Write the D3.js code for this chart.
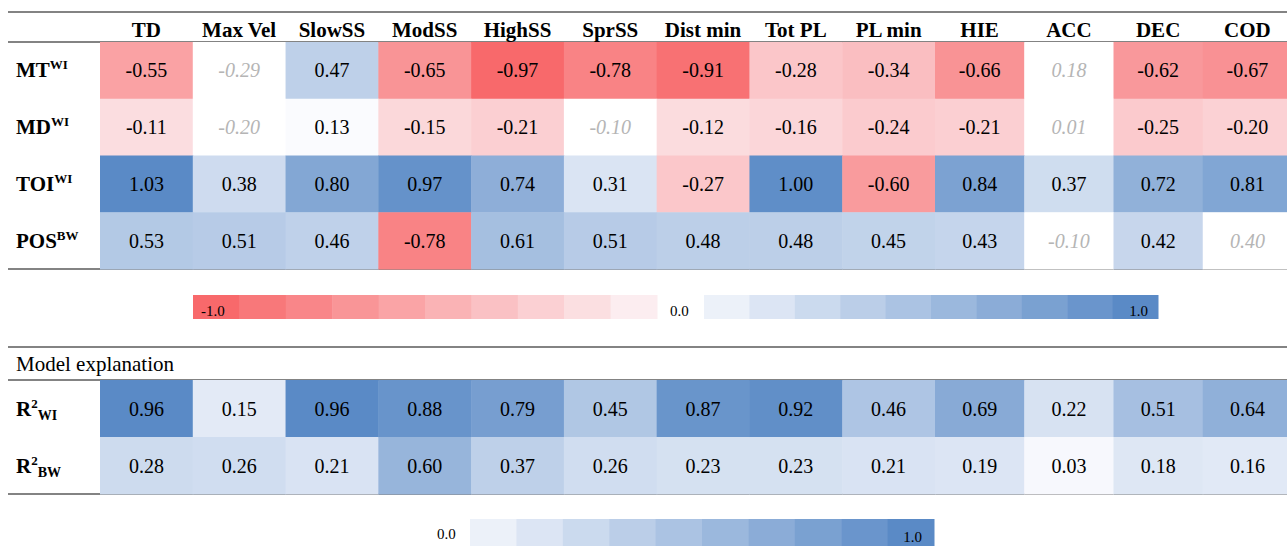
<!DOCTYPE html>
<html>
<head>
<meta charset="utf-8">
<script src="https://cdn.jsdelivr.net/npm/d3@7/dist/d3.min.js"></script>
<style>
  html, body { margin: 0; padding: 0; background: #fff; }
  svg { display: block; }
  text { font-family: "Liberation Serif", "Times New Roman", serif; }
</style>
</head>
<body>
<svg id="chart" width="1287" height="546"></svg>
<script>
// Column variables
const columns = ["TD", "Max Vel", "SlowSS", "ModSS", "HighSS", "SprSS", "Dist min", "Tot PL", "PL min", "HIE", "ACC", "DEC", "COD"];

// Predictor rows: label, superscript tag
const rowNames = ["MT", "MD", "TOI", "POS"];
const rowTags = ["WI", "WI", "WI", "BW"];

// Standardised coefficients per predictor
const mtValues  = [-0.55, -0.29, 0.47, -0.65, -0.97, -0.78, -0.91, -0.28, -0.34, -0.66, 0.18, -0.62, -0.67];
const mdValues  = [-0.11, -0.20, 0.13, -0.15, -0.21, -0.10, -0.12, -0.16, -0.24, -0.21, 0.01, -0.25, -0.20];
const toiValues = [1.03, 0.38, 0.80, 0.97, 0.74, 0.31, -0.27, 1.00, -0.60, 0.84, 0.37, 0.72, 0.81];
const posValues = [0.53, 0.51, 0.46, -0.78, 0.61, 0.51, 0.48, 0.48, 0.45, 0.43, -0.10, 0.42, 0.40];

// Non-significant estimates (drawn in grey italics, no fill)
const mtNonSig  = [0, 1, 0, 0, 0, 0, 0, 0, 0, 0, 1, 0, 0];
const mdNonSig  = [0, 1, 0, 0, 0, 1, 0, 0, 0, 0, 1, 0, 0];
const toiNonSig = [0, 0, 0, 0, 0, 0, 0, 0, 0, 0, 0, 0, 0];
const posNonSig = [0, 0, 0, 0, 0, 0, 0, 0, 0, 0, 1, 0, 1];

// Model explanation (R squared)
const r2Names = ["WI", "BW"];
const r2WI = [0.96, 0.15, 0.96, 0.88, 0.79, 0.45, 0.87, 0.92, 0.46, 0.69, 0.22, 0.51, 0.64];
const r2BW = [0.28, 0.26, 0.21, 0.60, 0.37, 0.26, 0.23, 0.23, 0.21, 0.19, 0.03, 0.18, 0.16];

// Legend steps
const negSteps = [-1.0, -0.9, -0.8, -0.7, -0.6, -0.5, -0.4, -0.3, -0.2, -0.1];
const posSteps = [0.1, 0.2, 0.3, 0.4, 0.5, 0.6, 0.7, 0.8, 0.9, 1.0];

const coefRows = [mtValues, mdValues, toiValues, posValues];
const sigRows = [mtNonSig, mdNonSig, toiNonSig, posNonSig];
const r2Rows = [r2WI, r2BW];

const RED = "#F8696B", WHITE = "#FCFCFF", BLUE = "#5A8AC6";
const INK = "#000", MUTED = "#b5b5b5", RULE = "#5a5a5a";

const svg = d3.select("#chart");

// Column edges: nine wider leading columns, four narrower trailing ones
const x = d3.scaleLinear().domain([0, 9, 13]).range([100, 935, 1292]);
const colW = i => x(i + 1) - x(i);

// Row bands
const yCoef = d3.scaleBand().domain(d3.range(rowNames.length)).range([42, 269]);
const yR2 = d3.scaleBand().domain(d3.range(r2Names.length)).range([380, 494]);

// Fill scales
const allCoef = coefRows.flat();
const coefColor = d3.scaleLinear()
  .domain([d3.min(allCoef), 0.12, d3.max(allCoef)])
  .range([RED, WHITE, BLUE]).clamp(true);
const legendColor = d3.scaleLinear().domain([-1, 0, 1]).range([RED, WHITE, BLUE]);
const allR2 = r2Rows.flat();
const r2Color = d3.scaleLinear().domain([0, d3.max(allR2)]).range([WHITE, BLUE]).clamp(true);
const r2Legend = d3.scaleLinear().domain([0, 1]).range([WHITE, BLUE]);

// Plain hyphen-minus for negative numbers
const locale = d3.formatLocale({ decimal: ".", thousands: ",", grouping: [3], currency: ["", ""], minus: "-" });
const fmt = locale.format(".2f");
const fmt1 = locale.format(".1f");

// ---- Horizontal rules ----
[12, 42, 269, 347, 380, 494].forEach(yy => {
  svg.append("line")
    .attr("x1", 8).attr("x2", 1287).attr("y1", yy).attr("y2", yy)
    .attr("stroke", RULE).attr("stroke-width", 1.6);
});

// ---- Column headers ----
svg.append("g").selectAll("text").data(columns).join("text")
  .attr("x", (d, i) => x(i) + colW(i) / 2)
  .attr("y", 37)
  .attr("text-anchor", "middle")
  .attr("font-size", 21).attr("font-weight", "bold").attr("fill", INK)
  .text(d => d);

// ---- Coefficient cells ----
const coefCells = [];
coefRows.forEach((vals, r) => vals.forEach((v, c) => coefCells.push({ r, c, v, ns: sigRows[r][c] === 1 })));

const gCoef = svg.append("g");
gCoef.selectAll("rect").data(coefCells).join("rect")
  .attr("x", d => x(d.c)).attr("y", d => yCoef(d.r))
  .attr("width", d => colW(d.c) + 0.5).attr("height", yCoef.bandwidth() + 0.5)
  .attr("fill", d => d.ns ? "#ffffff" : coefColor(d.v));
gCoef.selectAll("text").data(coefCells).join("text")
  .attr("x", d => x(d.c) + colW(d.c) / 2)
  .attr("y", d => yCoef(d.r) + yCoef.bandwidth() / 2 + 7)
  .attr("text-anchor", "middle").attr("font-size", 20)
  .attr("font-style", d => d.ns ? "italic" : "normal")
  .attr("fill", d => d.ns ? MUTED : INK)
  .text(d => fmt(d.v));

// Row labels with superscript tags
rowNames.forEach((name, r) => {
  const base = yCoef(r) + yCoef.bandwidth() / 2 + 7;
  const t = svg.append("text").attr("x", 16).attr("y", base)
    .attr("font-size", 21).attr("font-weight", "bold").attr("fill", INK);
  t.append("tspan").text(name);
  t.append("tspan").attr("font-size", 13).attr("dy", -8).text(rowTags[r]);
});

// ---- Coefficient legend ----
const legTop = 295, legH = 24;
const legRed = d3.scaleBand().domain(negSteps).range([193, 657]);
svg.append("g").selectAll("rect").data(negSteps).join("rect")
  .attr("x", d => legRed(d)).attr("y", legTop)
  .attr("width", legRed.bandwidth() + 0.5).attr("height", legH)
  .attr("fill", d => legendColor(d));
const legBlue = d3.scaleBand().domain(posSteps).range([704, 1158]);
svg.append("g").selectAll("rect").data(posSteps).join("rect")
  .attr("x", d => legBlue(d)).attr("y", legTop)
  .attr("width", legBlue.bandwidth() + 0.5).attr("height", legH)
  .attr("fill", d => legendColor(d));
svg.append("text").attr("x", legRed(-1.0) + 8).attr("y", 316)
  .attr("font-size", 15).attr("fill", INK).text(fmt1(negSteps[0]));
svg.append("text").attr("x", 670).attr("y", 316)
  .attr("font-size", 15).attr("fill", INK).text(fmt1(0));
svg.append("text").attr("x", legBlue(1.0) + legBlue.bandwidth() - 10).attr("y", 316)
  .attr("text-anchor", "end").attr("font-size", 15).attr("fill", INK).text(fmt1(posSteps[posSteps.length - 1]));

// ---- Model explanation ----
svg.append("text").attr("x", 16).attr("y", 371)
  .attr("font-size", 21).attr("fill", INK).text("Model explanation");

const r2Cells = [];
r2Rows.forEach((vals, r) => vals.forEach((v, c) => r2Cells.push({ r, c, v })));
const gR2 = svg.append("g");
gR2.selectAll("rect").data(r2Cells).join("rect")
  .attr("x", d => x(d.c)).attr("y", d => yR2(d.r))
  .attr("width", d => colW(d.c) + 0.5).attr("height", yR2.bandwidth() + 0.5)
  .attr("fill", d => r2Color(d.v));
gR2.selectAll("text").data(r2Cells).join("text")
  .attr("x", d => x(d.c) + colW(d.c) / 2)
  .attr("y", d => yR2(d.r) + yR2.bandwidth() / 2 + 7)
  .attr("text-anchor", "middle").attr("font-size", 20).attr("fill", INK)
  .text(d => fmt(d.v));

r2Names.forEach((name, r) => {
  const base = yR2(r) + yR2.bandwidth() / 2 + 7;
  const t = svg.append("text").attr("x", 16).attr("y", base)
    .attr("font-size", 21).attr("font-weight", "bold").attr("fill", INK);
  t.append("tspan").text("R");
  t.append("tspan").attr("font-size", 13).attr("dy", -8).text("2");
  t.append("tspan").attr("font-size", 14).attr("dy", 12).text(name);
});

// ---- R squared legend ----
const r2Steps = posSteps;
const legR2 = d3.scaleBand().domain(r2Steps).range([470, 934]);
svg.append("g").selectAll("rect").data(r2Steps).join("rect")
  .attr("x", d => legR2(d)).attr("y", 519)
  .attr("width", legR2.bandwidth() + 0.5).attr("height", 30)
  .attr("fill", d => r2Legend(d));
svg.append("text").attr("x", 437).attr("y", 539)
  .attr("font-size", 15).attr("fill", INK).text(fmt1(0));
svg.append("text").attr("x", legR2(1.0) + legR2.bandwidth() - 12).attr("y", 542)
  .attr("text-anchor", "end").attr("font-size", 15).attr("fill", INK).text(fmt1(1));
</script>
</body>
</html>
